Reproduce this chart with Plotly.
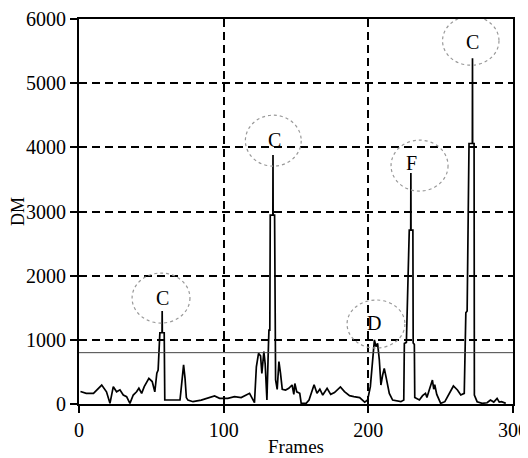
import plotly.graph_objects as go

# Frame numbers and DM values
frames = [1, 3, 5, 10, 15.7, 19, 21.4, 23.7, 26, 28.3, 30.6, 32.9, 35.2, 37.5, 39.8, 41.4, 43.3, 45.1,
          48.3, 50.6, 52.4, 53.8, 54.7, 55.9, 57.4, 57.5, 57.6, 58.9, 59.3, 62.8, 66, 69.8, 70.4, 71.4,
          72.3, 73.3, 74.2, 75.3, 78.8, 84.5, 89.1, 93.7, 97.2, 102.9, 107.5, 112.1, 115.6, 117.9, 121.3,
          122.6, 124.1, 125.5, 126.4, 127.8, 128.7, 129.9, 131, 131.3, 131.9, 132.2, 134, 134.1, 134.2,
          135.2, 135.4, 135.9, 137, 138.2, 139.3, 140.5, 142.8, 145, 147.3, 148.5, 149.2, 150.5, 152.6,
          153.6, 157, 159, 162.5, 164.5, 166.5, 168.5, 171.5, 174, 176.6, 180.7, 183.5, 187, 190, 194,
          197.5, 199.5, 201.4, 203, 204.2, 205.3, 206.4, 207.6, 208.7, 209.9, 211, 212.2, 213.3, 214.5,
          216.8, 222.5, 224.5, 224.9, 226.3, 228.3, 229.3, 229.4, 229.5, 230.8, 231, 231.8, 232.1, 235.3,
          237.5, 239.5, 240.5, 242.1, 244.3, 245.2, 245.9, 247.3, 250, 252.9, 255.9, 258.8, 261.6, 263.9,
          266.3, 267.4, 268.3, 269.6, 271.9, 272, 272.1, 273.1, 273.3, 275.2, 278.7, 282.1, 284.4, 286.7,
          289, 290.5, 292.1, 295]
dm = [195, 175, 165, 165, 295, 190, 10, 270, 190, 220, 140, 115, 10, 140, 190, 245, 165, 270,
      400, 350, 190, 480, 530, 1110, 1110, 1450, 1110, 1110, 62, 62, 62, 62, 190, 450,
      610, 400, 100, 60, 36, 60, 88, 125, 88, 88, 114, 100, 140, 166, 20,
      580, 790, 750, 478, 815, 620, 62, 945, 1150, 1150, 2945, 2945, 3880, 2945,
      2945, 580, 374, 228, 660, 478, 228, 218, 244, 296, 150, 320, 190, 166,
      10, 10, 62, 300, 166, 230, 140, 245, 150, 177, 265, 192, 130, 115, 100,
      30, 62, 270, 763, 1000, 894, 945, 686, 296, 452, 555, 426, 270, 166,
      62, 36, 62, 945, 960, 2710, 2710, 3600, 2710, 2710, 950, 930, 100, 62,
      130, 166, 100, 218, 374, 230, 300, 150, 10, 36, 166, 281, 218, 140,
      166, 1420, 1450, 4060, 4060, 5390, 4060, 4060, 140, 36, 10, 20, 62, 30,
      88, 30, 36, 10]

threshold = 800

# Peak annotations
labels = ["C", "C", "D", "F", "C"]
label_frames = [57.7, 134.8, 204.1, 229.9, 272]
label_dm = [1650, 4110, 1257, 3760, 5643]
circle_frames = [56.7, 134.3, 205.3, 235.4, 270.8]
circle_dm = [1651, 4104, 1246, 3715, 5662]
circle_rx = [20, 19.3, 20, 19.7, 19.5]
circle_ry = [390, 397, 375, 397, 382]

FONT = "Liberation Serif, Times New Roman, serif"

fig = go.Figure()
fig.add_trace(go.Scatter(x=frames, y=dm, mode="lines",
                         line=dict(color="black", width=1.7), showlegend=False))

fig.add_hline(y=threshold, line=dict(color="#444", width=1))

for cx, cy, rx, ry in zip(circle_frames, circle_dm, circle_rx, circle_ry):
    fig.add_shape(type="circle", xref="x", yref="y",
                  x0=cx - rx, x1=cx + rx, y0=cy - ry, y1=cy + ry,
                  line=dict(color="#999", width=1.2, dash="dot"))

for t, fx, fy in zip(labels, label_frames, label_dm):
    fig.add_annotation(x=fx, y=fy, text=t, showarrow=False,
                       font=dict(family=FONT, size=20, color="black"))

axis_common = dict(showline=True, mirror=True, linecolor="black", linewidth=2,
                   ticks="outside", ticklen=7, tickcolor="black", tickwidth=2,
                   showgrid=True, gridcolor="black", gridwidth=2, griddash="8px,5px",
                   zeroline=False, automargin=False,
                   tickfont=dict(family=FONT, size=20, color="black"))

fig.update_xaxes(range=[0, 300], dtick=100, tick0=0,
                 title=dict(text="Frames", font=dict(family=FONT, size=19, color="black"), standoff=0),
                 **axis_common)
fig.update_yaxes(range=[0, 6000], dtick=1000, tick0=0,
                 title=dict(text="DM", font=dict(family=FONT, size=18, color="black"), standoff=2),
                 **axis_common)

# the page body adds an 8px offset, so the figure is sized/margined to compensate
fig.update_layout(width=520, height=450, margin=dict(l=71, r=15, t=11, b=54),
                  plot_bgcolor="white", paper_bgcolor="white",
                  font=dict(family=FONT, color="black"))

fig.write_html("out.html")
